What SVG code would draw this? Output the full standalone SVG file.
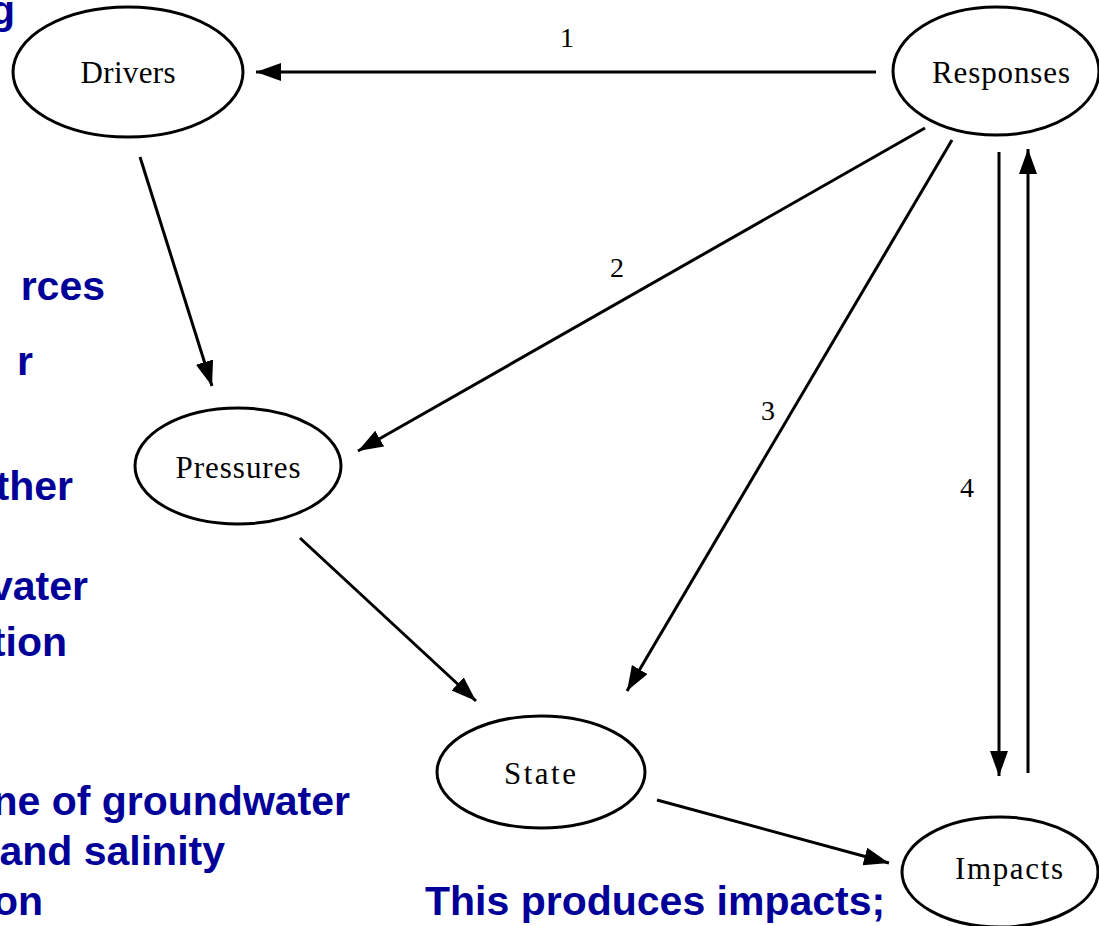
<svg xmlns="http://www.w3.org/2000/svg" width="1099" height="926" viewBox="0 0 1099 926">
<style>
.node ellipse{fill:#fff;stroke:#000;stroke-width:3}
.lbl{font-family:"Liberation Serif",serif;font-size:31px;fill:#000;text-anchor:middle}
.num{font-family:"Liberation Serif",serif;font-size:28px;fill:#000;text-anchor:middle}
.edge{stroke:#000;stroke-width:3;fill:none;marker-end:url(#ah)}
.blue{font-family:"Liberation Sans",Arial,sans-serif;font-weight:bold;font-size:41px;fill:#000099}
.blue.l{text-anchor:end}
</style>
<defs>
<marker id="ah" markerUnits="userSpaceOnUse" markerWidth="28" markerHeight="20" refX="25" refY="9" orient="auto">
<path d="M0,0 L25,9 L0,18 z" fill="#000"/>
</marker>
</defs>
<rect width="1099" height="926" fill="#fff"/>
<g id="connectors">
<line class="edge" x1="876" y1="72" x2="256" y2="72"/>
<line class="edge" x1="140" y1="157" x2="212" y2="386"/>
<line class="edge" x1="925" y1="128" x2="358" y2="451"/>
<line class="edge" x1="952" y1="140" x2="627" y2="691"/>
<line class="edge" x1="300" y1="538" x2="476" y2="701"/>
<line class="edge" x1="657" y1="800" x2="889" y2="863"/>
<line class="edge" x1="999" y1="152" x2="999" y2="776"/>
<line class="edge" x1="1028" y1="773" x2="1028" y2="149"/>
<text class="num" x="567" y="47">1</text>
<text class="num" x="617" y="277">2</text>
<text class="num" x="768" y="420">3</text>
<text class="num" x="967" y="497">4</text>
</g>
<g id="drivers" class="node"><ellipse cx="128" cy="72" rx="115" ry="65"/><text class="lbl" x="128" y="83" textLength="95">Drivers</text></g>
<g id="responses" class="node"><ellipse cx="996" cy="71" rx="103" ry="64"/><text class="lbl" x="1001" y="83" textLength="138">Responses</text></g>
<g id="pressures" class="node"><ellipse cx="238" cy="466" rx="103" ry="58"/><text class="lbl" x="238" y="478" textLength="125">Pressures</text></g>
<g id="state" class="node"><ellipse cx="541" cy="772" rx="104" ry="56"/><text class="lbl" x="540" y="784" textLength="72">State</text></g>
<g id="impacts" class="node"><ellipse cx="1000" cy="872" rx="98" ry="55"/><text class="lbl" x="1009" y="879" textLength="108">Impacts</text></g>
<g id="captions">
<text class="blue l" x="15" y="24">g</text>
<text class="blue l" x="105" y="300">rces</text>
<text class="blue l" x="33" y="375">r</text>
<text class="blue l" x="73" y="500">ther</text>
<text class="blue l" x="88" y="600">vater</text>
<text class="blue l" x="67" y="656">tion</text>
<text class="blue l" x="350" y="815">ne of groundwater</text>
<text class="blue l" x="225" y="865">and salinity</text>
<text class="blue l" x="43" y="915">on</text>
<text class="blue" x="425" y="915">This produces impacts;</text>
</g>
</svg>
